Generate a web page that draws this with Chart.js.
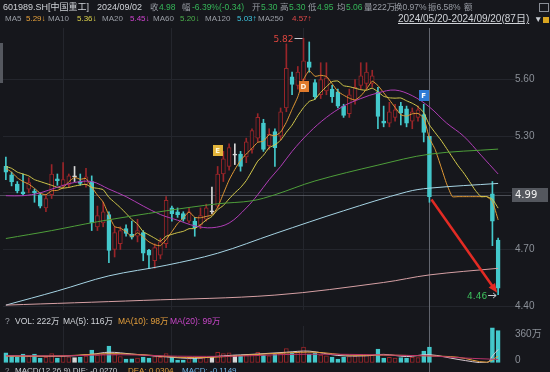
<!DOCTYPE html>
<html>
<head>
<meta charset="utf-8">
<script src="https://cdn.jsdelivr.net/npm/chart.js@4.4.1/dist/chart.umd.min.js"></script>
<style>
html, body { margin: 0; padding: 0; background: #16171c; }
#wrap { position: relative; width: 550px; height: 372px; overflow: hidden; background: #16171c;
  font-family: "Liberation Sans", "Noto Sans CJK SC", sans-serif; font-size: 8.5px; color: #9a9ea6; }
.t { position: absolute; white-space: nowrap; line-height: 12px; }
.r2 { font-size: 8px; }
#priceBox { position: absolute; left: 0; top: 0; width: 550px; height: 316px; }
#volBox { position: absolute; left: 0; top: 316px; width: 550px; height: 56px; }
.g { color: #35b558; } .w { color: #d0d3d8; }
</style>
</head>
<body>
<div id="wrap">
  <div id="priceBox"><canvas id="priceChart"></canvas></div>
  <div id="volBox"><canvas id="volChart"></canvas></div>

  <!-- header row 1 -->
  <span class="t w" style="left:3px;top:1px;font-size:9px">601989.SH[中国重工]</span>
  <span class="t w" style="left:97px;top:1px;font-size:9px">2024/09/02</span>
  <span class="t" style="left:150px;top:1px">收</span><span class="t g" style="left:159px;top:1px">4.98</span>
  <span class="t" style="left:182px;top:1px">幅</span><span class="t g" style="left:192px;top:1px">-6.39%(-0.34)</span>
  <span class="t" style="left:252px;top:1px">开</span><span class="t g" style="left:261px;top:1px">5.30</span>
  <span class="t" style="left:280px;top:1px">高</span><span class="t g" style="left:289px;top:1px">5.30</span>
  <span class="t" style="left:308px;top:1px">低</span><span class="t g" style="left:317px;top:1px">4.95</span>
  <span class="t" style="left:337px;top:1px">均</span><span class="t g" style="left:346px;top:1px">5.06</span>
  <span class="t" style="left:364px;top:1px">量222万</span>
  <span class="t" style="left:394px;top:1px">换0.97%</span>
  <span class="t" style="left:428px;top:1px">振6.58%</span>
  <span class="t" style="left:464px;top:1px">额</span>
  <div style="position:absolute;left:539px;top:3px;width:8px;height:7px;border:1px solid #8a8e96;"></div>

  <!-- header row 2 -->
  <span class="t r2" style="left:5px;top:13px">MA5</span><span class="t r2" style="left:26px;top:13px;color:#e9a23b">5.29↓</span>
  <span class="t r2" style="left:48px;top:13px">MA10</span><span class="t r2" style="left:77px;top:13px;color:#dcd24a">5.36↓</span>
  <span class="t r2" style="left:102px;top:13px">MA20</span><span class="t r2" style="left:130px;top:13px;color:#d143d1">5.45↓</span>
  <span class="t r2" style="left:153px;top:13px">MA60</span><span class="t r2" style="left:180px;top:13px;color:#4bb04b">5.20↓</span>
  <span class="t r2" style="left:205px;top:13px">MA120</span><span class="t r2" style="left:237px;top:13px;color:#3ec6e0">5.03↑</span>
  <span class="t r2" style="left:258px;top:13px">MA250</span><span class="t r2" style="left:292px;top:13px;color:#e04848">4.57↑</span>
  <span class="t w" style="left:398px;top:13px;font-size:10px;text-decoration:underline">2024/05/20-2024/09/20(87日)</span>
  <span class="t" style="left:534px;top:13px;color:#c8ccd2">▼</span>
  <div style="position:absolute;left:543px;top:17px;width:6px;height:6px;background:#d9a520;"></div>
  <div style="position:absolute;left:0;top:43px;width:3px;height:40px;background:#55585f;"></div>

  <!-- volume header -->
  <span class="t" style="left:5px;top:315px">?</span>
  <span class="t w" style="left:15px;top:315px">VOL: 222万</span>
  <span class="t w" style="left:63px;top:315px">MA(5): 116万</span>
  <span class="t" style="left:118px;top:315px;color:#e6a03c">MA(10): 98万</span>
  <span class="t" style="left:170px;top:315px;color:#c846c8">MA(20): 99万</span>

  <!-- macd header (cut off at the bottom) -->
  <span class="t r2" style="left:5px;top:365px">?</span>
  <span class="t w r2" style="left:15px;top:365px">MACD(12,26,9) DIF: -0.0270</span>
  <span class="t r2" style="left:128px;top:365px;color:#e6a03c">DEA: 0.0304</span>
  <span class="t r2" style="left:182px;top:365px;color:#6fb6e8">MACD: -0.1149</span>
</div>

<script>
// trading days 2024/05/20 - 2024/09/20
const dates = [
  '05/20','05/21','05/22','05/23','05/24','05/27','05/28','05/29','05/30','05/31',
  '06/03','06/04','06/05','06/06','06/07','06/11','06/12','06/13','06/14','06/17',
  '06/18','06/19','06/20','06/21','06/24','06/25','06/26','06/27','06/28',
  '07/01','07/02','07/03','07/04','07/05','07/08','07/09','07/10','07/11','07/12',
  '07/15','07/16','07/17','07/18','07/19','07/22','07/23','07/24','07/25','07/26',
  '07/29','07/30','07/31',
  '08/01','08/02','08/05','08/06','08/07','08/08','08/09','08/12','08/13','08/14',
  '08/15','08/16','08/19','08/20','08/21','08/22','08/23','08/26','08/27','08/28',
  '08/29','08/30',
  '09/02','09/03','09/04','09/05','09/06','09/09','09/10','09/11','09/12','09/13',
  '09/18','09/19','09/20'
];

const N = null;
const opens = [
  5.14,5.095,5.047,5.005,5.02,5.01,4.99,4.92,4.99,5.075,
  5.04,5.045,5.085,5.06,5.045,5.06,4.82,4.84,4.885,4.70,
  4.73,4.81,4.78,4.77,4.79,4.695,4.64,4.67,4.73,4.92,
  4.90,4.89,4.85,4.85,4.83,4.86,4.90,4.93,5.10,5.14,
  5.20,5.205,5.19,5.23,5.29,5.37,5.25,5.325,5.30,5.45,
  5.615,5.57,5.60,5.695,5.585,5.52,5.54,5.55,5.535,5.46,
  5.42,5.49,5.57,5.58,5.58,5.535,5.38,5.37,5.40,5.46,
  5.445,5.38,5.40,5.415,5.30,
  N,N,N,N,N,N,N,N,N,N,
  4.995,4.75
];
const highs = [
  5.19,5.11,5.06,5.10,5.08,5.02,5.00,4.99,5.15,5.10,
  5.16,5.10,5.14,5.10,5.13,5.09,4.93,4.95,4.90,4.82,
  4.82,4.83,4.85,4.86,4.80,4.70,4.73,4.76,4.98,4.93,
  4.92,4.90,4.92,4.87,4.92,4.94,5.03,5.14,5.22,5.26,
  5.26,5.22,5.29,5.34,5.42,5.39,5.34,5.34,5.45,5.79,
  5.64,5.67,5.82,5.80,5.60,5.69,5.69,5.57,5.55,5.47,
  5.55,5.60,5.69,5.69,5.65,5.56,5.46,5.48,5.47,5.48,
  5.46,5.45,5.46,5.47,5.30,
  N,N,N,N,N,N,N,N,N,N,
  5.06,4.76
];
const lows = [
  5.07,5.037,5.00,4.985,5.00,4.95,4.92,4.90,4.97,5.04,
  5.03,5.03,5.06,5.04,5.03,4.80,4.80,4.82,4.63,4.66,
  4.70,4.77,4.755,4.74,4.64,4.60,4.60,4.65,4.71,4.85,
  4.87,4.85,4.84,4.77,4.81,4.85,4.89,4.92,5.06,5.12,
  5.15,5.115,5.16,5.21,5.27,5.22,5.23,5.14,5.28,5.43,
  5.52,5.55,5.58,5.64,5.495,5.50,5.52,5.48,5.45,5.40,
  5.40,5.47,5.55,5.55,5.56,5.34,5.35,5.35,5.38,5.36,
  5.35,5.34,5.38,5.27,4.95,
  N,N,N,N,N,N,N,N,N,N,
  4.72,4.46
];
const closes = [
  5.11,5.058,5.01,4.995,5.055,5.00,4.93,4.97,5.10,5.065,
  5.07,5.09,5.085,5.05,5.085,4.84,4.88,4.90,4.695,4.79,
  4.80,4.785,4.765,4.80,4.68,4.67,4.71,4.74,4.96,4.89,
  4.885,4.86,4.90,4.815,4.88,4.92,4.90,5.10,5.18,5.24,
  5.20,5.14,5.27,5.33,5.40,5.23,5.31,5.24,5.43,5.66,
  5.575,5.64,5.70,5.665,5.51,5.60,5.61,5.51,5.46,5.41,
  5.52,5.56,5.62,5.64,5.62,5.405,5.37,5.43,5.44,5.425,
  5.37,5.43,5.44,5.32,4.98,
  N,N,N,N,N,N,N,N,N,N,
  4.85,4.495
];

// moving averages
const ma5 = [
  5.13,5.11,5.08,5.06,5.046,5.024,4.998,4.99,5.011,5.013,
  5.027,5.059,5.082,5.072,5.076,5.03,4.988,4.951,4.88,4.821,
  4.813,4.794,4.767,4.788,4.766,4.74,4.725,4.72,4.752,4.794,
  4.837,4.867,4.899,4.87,4.868,4.875,4.883,4.923,4.996,5.068,
  5.124,5.172,5.206,5.236,5.268,5.274,5.308,5.302,5.322,5.374,
  5.443,5.509,5.601,5.648,5.618,5.623,5.617,5.579,5.538,5.518,
  5.502,5.492,5.514,5.55,5.592,5.569,5.531,5.493,5.453,5.414,
  5.407,5.419,5.421,5.397,5.29,
  5.23,5.14,5.048,4.98,4.98,4.98,4.98,4.98,4.98,4.98,
  4.954,4.857
];
const ma10 = [
  5.14,5.13,5.11,5.10,5.09,5.07,5.06,5.05,5.04,5.029,
  5.025,5.029,5.036,5.042,5.045,5.029,5.024,5.017,4.976,4.949,
  4.922,4.891,4.859,4.834,4.794,4.777,4.760,4.744,4.77,4.78,
  4.789,4.796,4.810,4.811,4.831,4.856,4.875,4.911,4.933,4.968,
  5.00,5.028,5.065,5.116,5.168,5.199,5.24,5.254,5.279,5.321,
  5.359,5.409,5.452,5.485,5.496,5.533,5.563,5.59,5.593,5.568,
  5.563,5.555,5.547,5.544,5.555,5.536,5.512,5.504,5.502,5.503,
  5.488,5.475,5.457,5.425,5.36,
  5.319,5.28,5.235,5.189,5.144,5.105,5.06,5.014,4.98,4.98,
  4.967,4.919
];
const ma20Idx = [0,3,6,9,12,15,18,21,24,27,30,33,36,39,42,44,46,48,50,53,56,59,62,65,68,71,74,77,80,83,86];
const ma20Val = [4.985,4.985,5.0,5.03,5.055,5.06,5.02,4.98,4.93,4.885,4.855,4.825,4.815,4.84,4.92,4.99,5.07,5.14,5.22,5.32,5.40,5.46,5.50,5.53,5.545,5.515,5.455,5.37,5.30,5.20,5.10];
const ma60Idx = [0,8,16,28,37,43,47,54,65,74,86];
const ma60Val = [4.758,4.80,4.847,4.905,4.942,4.958,4.99,5.063,5.147,5.205,5.232];
const ma120Idx = [0,9,18,28,37,47,59,70,74,86];
const ma120Val = [4.405,4.48,4.56,4.616,4.68,4.784,4.905,5.005,5.025,5.05];
const ma250Idx = [0,24,47,66,74,86];
const ma250Val = [4.405,4.43,4.458,4.525,4.565,4.60];

const priceTicks = [4.40, 4.70, 5.00, 5.30, 5.60];

// volume, 万股
const vols = [
  140,97,83,125,95,125,70,80,130,70,
  100,85,75,83,95,180,110,120,236,120,
  90,55,57,70,83,70,90,80,130,83,
  42,42,60,65,70,80,90,150,130,140,
  110,97,110,120,150,111,100,125,140,200,
  140,150,220,125,143,110,100,83,55,83,
  90,95,120,110,110,195,70,80,70,76,
  70,80,75,166,222,
  N,N,N,N,N,N,N,N,N,N,
  490,450
];
const volMa5Idx = [0,10,15,18,22,28,33,38,44,49,53,58,63,66,70,74,79,84,85,86];
const volMa5Val = [100,95,120,150,125,85,65,100,125,150,165,105,100,120,90,116,50,0,98,188];
const volMa10Idx = [0,10,18,25,30,36,42,49,54,60,66,74,79,84,86];
const volMa10Val = [95,100,130,110,80,80,110,140,150,110,110,98,80,12,94];
const volMa20Idx = [0,10,20,30,40,50,60,70,74,80,86];
const volMa20Val = [100,100,115,95,95,120,120,105,99,70,50];
const volTicks = [0, 360];

// annotations
const markerIdx = [37, 52, 73];
const markerText = ['E', 'D', 'F'];
const markerPrice = [5.226, 5.563, 5.516];
const hiIdx = 52, hiVal = 5.82;
const loIdx = 86, loVal = 4.46;
const arrowFrom = [74, 4.965], arrowTo = [86, 4.47];
const crossIdx = 74, crossVal = 4.99;

const BG = '#16171c';
const UP = '#9a2529', DOWN = '#44c9cc', FLAT = '#d8d8d8';
const GRID = '#24262d';

const sparse = (idx, val) => {
  const a = dates.map(() => null);
  idx.forEach((k, j) => { a[k] = val[j]; });
  return a;
};
const dir = i => closes[i] == null ? 0 : (closes[i] > opens[i] ? 1 : (closes[i] < opens[i] ? -1 : 0));
const candleColor = dates.map((d, i) => dir(i) > 0 ? UP : dir(i) < 0 ? DOWN : FLAT);
const bodyFill = dates.map((d, i) => dir(i) > 0 ? BG : candleColor[i]);

Chart.defaults.font.family = '"Liberation Sans", "Noto Sans CJK SC", sans-serif';
Chart.defaults.color = '#8b9098';

const monthLine = ctx => {
  const i = ctx.index;
  return (i > 0 && dates[i] && dates[i].slice(0, 2) !== dates[i - 1].slice(0, 2)) ? GRID : 'transparent';
};

const xAxis = {
  type: 'category',
  offset: true,
  ticks: { display: false, autoSkip: false },
  grid: { color: monthLine, offset: false, drawTicks: false },
  border: { display: false },
  afterFit: s => { s.height = 0; }
};

const line = (data, color, sparseLine) => ({
  type: 'line', data: data, borderColor: color, borderWidth: 1,
  pointRadius: 0, tension: sparseLine ? 0.35 : 0.15, spanGaps: true, order: 0
});

function drawCross(chart, top, bottom) {
  const ctx = chart.ctx;
  const x = Math.round(chart.scales.x.getPixelForValue(crossIdx)) + 0.5;
  ctx.save();
  ctx.strokeStyle = 'rgba(120,124,134,0.75)';
  ctx.lineWidth = 1;
  ctx.beginPath(); ctx.moveTo(x, top); ctx.lineTo(x, bottom); ctx.stroke();
  ctx.restore();
}

const pricePlugin = {
  id: 'priceMarks',
  beforeDatasetsDraw(chart) {
    const ctx = chart.ctx, a = chart.chartArea;
    drawCross(chart, a.top, chart.height);
    const y = Math.round(chart.scales.y.getPixelForValue(crossVal)) + 0.5;
    ctx.save();
    ctx.strokeStyle = 'rgba(120,124,134,0.55)';
    ctx.beginPath(); ctx.moveTo(0, y); ctx.lineTo(a.right + 10, y); ctx.stroke();
    ctx.restore();
  },
  afterDatasetsDraw(chart) {
    const ctx = chart.ctx, xs = chart.scales.x, ys = chart.scales.y;
    ctx.save();
    // signal markers
    const mFill = ['#e2b43a', '#e07a2c', '#2d7bd6'];
    const mText = ['#fff6d0', '#fff3e0', '#ffffff'];
    markerIdx.forEach((k, j) => {
      const x = xs.getPixelForValue(k), y = ys.getPixelForValue(markerPrice[j]);
      ctx.fillStyle = mFill[j];
      ctx.fillRect(Math.round(x - 5), Math.round(y - 5.5), 10, 11);
      ctx.fillStyle = mText[j];
      ctx.font = 'bold 7px "DejaVu Sans", sans-serif';
      ctx.textAlign = 'center'; ctx.textBaseline = 'middle';
      ctx.fillText(markerText[j], x, y + 0.5);
    });
    // highest / lowest labels
    ctx.font = '9px "DejaVu Sans", sans-serif';
    ctx.textBaseline = 'middle'; ctx.textAlign = 'right';
    let x = xs.getPixelForValue(hiIdx), y = Math.round(ys.getPixelForValue(hiVal)) + 0.5;
    ctx.fillStyle = '#e0463f'; ctx.strokeStyle = '#c8ccd2'; ctx.lineWidth = 1;
    ctx.fillText(hiVal.toFixed(2), x - 10, y + 1);
    ctx.beginPath(); ctx.moveTo(x - 9, y); ctx.lineTo(x - 1, y); ctx.stroke();
    x = xs.getPixelForValue(loIdx); y = Math.round(ys.getPixelForValue(loVal)) + 0.5;
    ctx.fillStyle = '#3cbf5c';
    ctx.fillText(loVal.toFixed(2), x - 11, y + 1);
    ctx.beginPath(); ctx.moveTo(x - 10, y); ctx.lineTo(x - 2, y);
    ctx.moveTo(x - 5, y - 2.5); ctx.lineTo(x - 2, y); ctx.lineTo(x - 5, y + 2.5); ctx.stroke();
    // red arrow
    const x1 = xs.getPixelForValue(arrowFrom[0]) + 2, y1 = ys.getPixelForValue(arrowFrom[1]);
    const x2 = xs.getPixelForValue(arrowTo[0]) - 1, y2 = ys.getPixelForValue(arrowTo[1]);
    const ang = Math.atan2(y2 - y1, x2 - x1), hl = 10;
    ctx.strokeStyle = '#e32b24'; ctx.fillStyle = '#e32b24'; ctx.lineWidth = 2.5;
    ctx.beginPath(); ctx.moveTo(x1, y1);
    ctx.lineTo(x2 - hl * 0.8 * Math.cos(ang), y2 - hl * 0.8 * Math.sin(ang)); ctx.stroke();
    ctx.beginPath(); ctx.moveTo(x2, y2);
    ctx.lineTo(x2 - hl * Math.cos(ang - 0.4), y2 - hl * Math.sin(ang - 0.4));
    ctx.lineTo(x2 - hl * Math.cos(ang + 0.4), y2 - hl * Math.sin(ang + 0.4));
    ctx.closePath(); ctx.fill();
    ctx.restore();
  },
  afterDraw(chart) {
    const ctx = chart.ctx, a = chart.chartArea;
    const y = Math.round(chart.scales.y.getPixelForValue(crossVal));
    ctx.save();
    ctx.fillStyle = '#54575e';
    ctx.fillRect(a.right + 11, y - 7, 36, 14);
    ctx.fillStyle = '#f2f2f2';
    ctx.font = '10px "DejaVu Sans", sans-serif';
    ctx.textBaseline = 'middle'; ctx.textAlign = 'left';
    ctx.fillText(crossVal.toFixed(2), a.right + 14, y + 0.5);
    ctx.restore();
  }
};

new Chart(document.getElementById('priceChart'), {
  data: {
    labels: dates,
    datasets: [
      { type: 'bar', data: dates.map((d, i) => lows[i] == null ? null : [lows[i], highs[i]]),
        backgroundColor: candleColor, barThickness: 1, grouped: false, order: 2 },
      { type: 'bar', data: dates.map((d, i) => opens[i] == null ? null : [opens[i], closes[i]]),
        backgroundColor: bodyFill, borderColor: candleColor, borderWidth: 1, borderSkipped: false,
        barThickness: 4, minBarLength: 1, grouped: false, order: 1 },
      line(sparse(ma250Idx, ma250Val), '#d6a0a4', true),
      line(sparse(ma120Idx, ma120Val), '#a6d4e4', true),
      line(sparse(ma60Idx, ma60Val), '#4e9e3a', true),
      line(sparse(ma20Idx, ma20Val), '#b03db6', true),
      line(ma10, '#d4ca4c', false),
      line(ma5, '#e39a35', false)
    ]
  },
  options: {
    responsive: true,
    maintainAspectRatio: false,
    animation: false,
    layout: { padding: { top: 28, bottom: 4, left: 3, right: 0 } },
    scales: {
      x: xAxis,
      y: {
        position: 'right',
        min: 4.379, max: 5.874,
        afterBuildTicks: s => { s.ticks = priceTicks.map(v => ({ value: v })); },
        afterFit: s => { s.width = 49; },
        ticks: { padding: 0, color: '#8b9098', font: { size: 10 },
                 callback: v => v === 5.00 ? '' : Number(v).toFixed(2) },
        grid: { color: GRID, drawTicks: true, tickLength: 14, tickColor: GRID },
        border: { display: false }
      }
    },
    plugins: { legend: { display: false }, tooltip: { enabled: false } }
  },
  plugins: [pricePlugin]
});

const volPlugin = {
  id: 'volCross',
  beforeDatasetsDraw(chart) { drawCross(chart, 0, chart.height); }
};

new Chart(document.getElementById('volChart'), {
  data: {
    labels: dates,
    datasets: [
      { type: 'bar', data: vols, backgroundColor: bodyFill, borderColor: candleColor,
        borderWidth: 1, borderSkipped: false, barThickness: 4, order: 1 },
      line(sparse(volMa20Idx, volMa20Val), '#b8336a', true),
      line(sparse(volMa10Idx, volMa10Val), '#e6a03c', true),
      line(sparse(volMa5Idx, volMa5Val), '#d8c8d0', true)
    ]
  },
  options: {
    responsive: true,
    maintainAspectRatio: false,
    animation: false,
    layout: { padding: { top: 10, bottom: 9, left: 3, right: 0 } },
    scales: {
      x: xAxis,
      y: {
        position: 'right',
        min: 0, max: 515,
        afterBuildTicks: s => { s.ticks = volTicks.map(v => ({ value: v })); },
        afterFit: s => { s.width = 49; },
        ticks: { padding: 0, color: '#8b9098', font: { size: 10 }, labelOffset: -3,
                 callback: v => v === 0 ? '0' : v + '万' },
        grid: { color: 'transparent', drawTicks: true, tickLength: 14, tickColor: 'transparent' },
        border: { display: false }
      }
    },
    plugins: { legend: { display: false }, tooltip: { enabled: false } }
  },
  plugins: [volPlugin]
});
</script>
</body>
</html>
